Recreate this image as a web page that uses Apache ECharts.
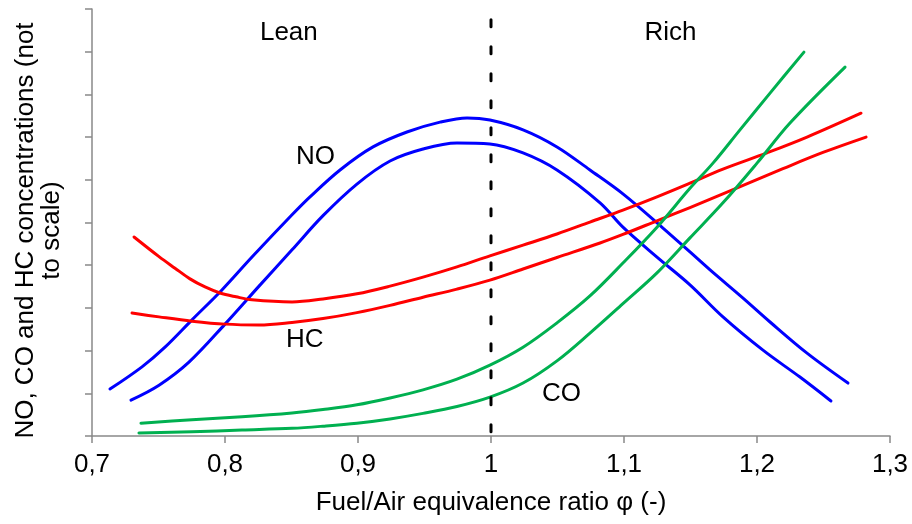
<!DOCTYPE html>
<html>
<head>
<meta charset="utf-8">
<script src="https://cdn.jsdelivr.net/npm/echarts@6/dist/echarts.min.js"></script>
<style>
  html, body { margin: 0; padding: 0; background: #fff; }
  #chart { width: 912px; height: 524px; }
</style>
</head>
<body>
<div id="chart"></div>
<script>
// Emission trends vs. equivalence ratio, two curves per species (x = phi, y = relative level)
const noUpper = [
  [0.7135, 1.10], [0.7376, 1.62], [0.7549, 2.08], [0.7752, 2.72], [0.7977, 3.42],
  [0.8203, 4.19], [0.8504, 5.18], [0.8639, 5.60], [0.8865, 6.23], [0.9113, 6.77],
  [0.9368, 7.12], [0.9617, 7.35], [0.9820, 7.45], [0.9992, 7.40], [1.0241, 7.17],
  [1.0496, 6.77], [1.0744, 6.23], [1.0992, 5.67], [1.1293, 4.87], [1.1496, 4.31],
  [1.1647, 3.89], [1.1895, 3.23], [1.2098, 2.67], [1.2376, 1.94], [1.2684, 1.24]
];
const noLower = [
  [0.7293, 0.84], [0.7504, 1.19], [0.7729, 1.73], [0.8000, 2.62], [0.8256, 3.51],
  [0.8504, 4.36], [0.8737, 5.16], [0.8992, 5.90], [0.9241, 6.44], [0.9489, 6.72],
  [0.9744, 6.86], [0.9992, 6.84], [1.0241, 6.63], [1.0496, 6.23], [1.0820, 5.46],
  [1.0992, 4.89], [1.1248, 4.19], [1.1496, 3.54], [1.1744, 2.79], [1.2045, 2.01],
  [1.2323, 1.38], [1.2556, 0.82]
];
const hcUpper = [
  [0.7316, 4.66], [0.7504, 4.20], [0.7624, 3.93], [0.7737, 3.68], [0.7850, 3.49],
  [0.7962, 3.35], [0.8083, 3.26], [0.8203, 3.19], [0.8504, 3.14], [0.8737, 3.21],
  [0.8992, 3.33], [0.9241, 3.51], [0.9489, 3.72], [0.9744, 3.96], [0.9992, 4.22],
  [1.0241, 4.47], [1.0496, 4.73], [1.0744, 5.01], [1.0992, 5.29], [1.1248, 5.60],
  [1.1496, 5.92], [1.1744, 6.25], [1.2075, 6.63], [1.2376, 7.00], [1.2782, 7.56]
];
const hcLower = [
  [0.7301, 2.88], [0.7504, 2.79], [0.7752, 2.69], [0.8000, 2.62], [0.8256, 2.60],
  [0.8504, 2.66], [0.8737, 2.75], [0.8992, 2.89], [0.9241, 3.06], [0.9489, 3.25],
  [0.9744, 3.44], [0.9992, 3.65], [1.0241, 3.91], [1.0496, 4.18], [1.0820, 4.52],
  [1.0992, 4.72], [1.1248, 5.04], [1.1496, 5.35], [1.1820, 5.77], [1.2195, 6.26],
  [1.2496, 6.64], [1.2820, 7.00]
];
const coUpper = [
  [0.7368, 0.30], [0.7752, 0.38], [0.8128, 0.45], [0.8504, 0.54], [0.8737, 0.62],
  [0.8992, 0.73], [0.9241, 0.89], [0.9489, 1.08], [0.9744, 1.33], [0.9992, 1.66],
  [1.0241, 2.08], [1.0496, 2.65], [1.0744, 3.28], [1.0992, 4.05], [1.1248, 4.89],
  [1.1496, 5.80], [1.1669, 6.39], [1.1872, 7.17], [1.2098, 8.03], [1.2353, 8.99]
];
const coLower = [
  [0.7353, 0.07], [0.7752, 0.10], [0.8128, 0.14], [0.8504, 0.18], [0.8737, 0.23],
  [0.8992, 0.30], [0.9241, 0.40], [0.9489, 0.53], [0.9744, 0.69], [0.9992, 0.91],
  [1.0241, 1.24], [1.0496, 1.76], [1.0744, 2.41], [1.0992, 3.10], [1.1248, 3.82],
  [1.1496, 4.64], [1.1744, 5.46], [1.2000, 6.39], [1.2248, 7.33], [1.2662, 8.64]
];
// Stoichiometric divider (phi = 1)
const stoichLine = [[1.0, 9.75], [1.0, 0]];
// Annotation texts: [x, y, text]
const annotations = [
  [0.848, 9.44, 'Lean'],
  [1.135, 9.44, 'Rich'],
  [0.868, 6.53, 'NO'],
  [0.860, 2.25, 'HC'],
  [1.053, 0.98, 'CO']
];
const xTicks = { min: 0.7, max: 1.3, step: 0.1 };
const yTicks = { min: 0, max: 10, step: 1 };

const FONT = '"Liberation Sans", Arial, sans-serif';
const FONT_SIZE = 26;
const AXIS_GRAY = '#898989';

function curve(data, color) {
  return {
    type: 'line',
    data: data,
    smooth: 0.35,
    showSymbol: false,
    silent: true,
    lineStyle: { color: color, width: 3, cap: 'round', join: 'round' },
    z: 3
  };
}

const chart = echarts.init(document.getElementById('chart'), null, { renderer: 'canvas' });
chart.setOption({
  animation: false,
  backgroundColor: '#ffffff',
  grid: { left: 92, right: 22, top: 9, bottom: 88, containLabel: false, outerBoundsMode: 'none' },
  xAxis: {
    type: 'value',
    min: xTicks.min, max: xTicks.max, interval: xTicks.step,
    name: 'Fuel/Air equivalence ratio \u03c6 (-)',
    nameLocation: 'middle',
    nameGap: 54,
    nameTextStyle: { fontFamily: FONT, fontSize: FONT_SIZE, color: '#000' },
    axisLine: { show: true, onZero: false, lineStyle: { color: AXIS_GRAY, width: 1.5 } },
    axisTick: { show: true, inside: false, length: 7, lineStyle: { color: AXIS_GRAY, width: 1.5 } },
    axisLabel: {
      margin: 16, fontFamily: FONT, fontSize: FONT_SIZE, color: '#000',
      formatter: v => String(Math.round(v * 10) / 10).replace('.', ',')
    },
    splitLine: { show: false }
  },
  yAxis: {
    type: 'value',
    min: yTicks.min, max: yTicks.max, interval: yTicks.step,
    name: 'NO, CO and HC concentrations (not\nto scale)',
    nameLocation: 'middle',
    nameRotate: 90,
    nameGap: 27,
    nameTextStyle: {
      fontFamily: FONT, fontSize: FONT_SIZE, color: '#000', lineHeight: 26,
      align: 'center', padding: [0, 16, 0, 0]
    },
    axisLine: { show: true, onZero: false, lineStyle: { color: AXIS_GRAY, width: 1.5 } },
    axisTick: { show: true, inside: false, length: 7, lineStyle: { color: AXIS_GRAY, width: 1.5 } },
    axisLabel: { show: false },
    splitLine: { show: false }
  },
  series: [
    curve(noUpper, '#0000ff'),
    curve(noLower, '#0000ff'),
    curve(hcUpper, '#ff0000'),
    curve(hcLower, '#ff0000'),
    curve(coUpper, '#00b050'),
    curve(coLower, '#00b050'),
    {
      type: 'line',
      data: stoichLine,
      showSymbol: false,
      silent: true,
      lineStyle: { color: '#000', width: 3, type: [7, 20], cap: 'round' },
      z: 4
    },
    {
      type: 'scatter',
      data: annotations.map(a => ({ value: [a[0], a[1]], name: a[2] })),
      symbolSize: 0,
      silent: true,
      itemStyle: { opacity: 1 },
      label: {
        show: true, position: 'inside',
        formatter: p => p.name,
        fontFamily: FONT, fontSize: FONT_SIZE, color: '#000',
        opacity: 1, textBorderWidth: 0
      },
      z: 5
    }
  ]
});
</script>
</body>
</html>
